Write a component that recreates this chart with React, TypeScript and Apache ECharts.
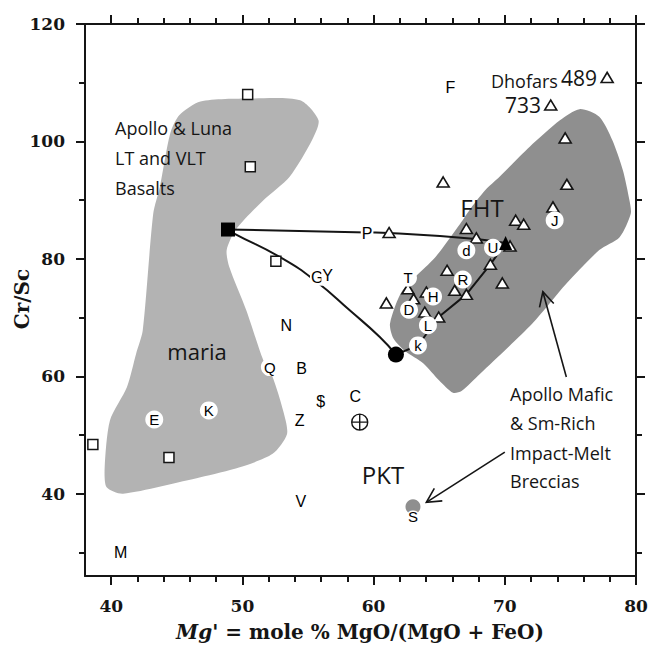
import React, { useEffect, useRef } from 'react';
import * as echarts from 'echarts';

// Axis ticks
const xMajorTicks = [40, 50, 60, 70, 80];
const xMinorTicks = [42, 44, 46, 48, 52, 54, 56, 58, 62, 64, 66, 68, 72, 74, 76, 78];
const yMajorTicks = [40, 60, 80, 100, 120];
const yMinorTicks = [30, 50, 70, 90, 110];

// Field outlines [Mg', Cr/Sc]
const mariaField = [
  [44.5, 101.4], [45.2, 104.5], [46.8, 106.8], [50.6, 107.3], [54.4, 107.0], [55.8, 103.6],
  [55.3, 100.2], [53.6, 94.0], [51.6, 90.0], [49.5, 85.0], [48.8, 81.5], [49.0, 78.6],
  [50.3, 71.2], [51.6, 62.7], [52.3, 59.9], [53.1, 54.2], [53.4, 50.2], [52.3, 46.8],
  [49.8, 44.5], [46.8, 42.8], [40.9, 40.0], [39.65, 41.1], [39.5, 44.5], [39.9, 52.5],
  [41.2, 58.2], [41.9, 63.9], [42.4, 67.8], [43.2, 87.7], [43.7, 92.2],
];
const mafitBrecciaField = [
  [75.7, 105.5], [77.2, 104.2], [78.2, 100.2], [79.0, 95.1], [79.5, 90.0], [79.6, 87.7],
  [78.75, 83.7], [77.2, 81.5], [74.7, 75.8], [72.1, 69.0], [68.1, 60.4], [66.7, 57.5],
  [66.05, 57.2], [65.0, 59.3], [63.8, 62.2], [62.4, 64.3], [61.5, 66.5], [61.25, 69.0],
  [62.2, 74.6], [64.7, 80.3], [66.6, 86.0], [67.3, 88.3], [68.5, 91.7], [69.6, 94.0],
  [71.9, 99.1], [74.2, 103.6],
];

// Sample groups
const basaltSquares = [[50.4, 108.0], [50.6, 95.7], [52.55, 79.6], [38.6, 48.4], [44.4, 46.2]];
const brecciaTriangles = [
  [77.8, 110.9], [73.5, 106.2], [74.6, 100.6], [74.73, 92.7], [65.3, 93.1], [73.67, 88.85],
  [70.83, 86.58], [71.44, 85.9], [67.07, 85.17], [61.18, 84.49], [67.83, 83.57], [70.4, 82.2],
  [65.6, 78.06], [68.9, 79.08], [69.81, 75.9], [62.62, 74.9], [66.18, 74.65], [67.07, 73.96],
  [60.97, 72.5], [63.05, 73.2], [64.02, 74.36], [63.9, 70.95], [64.96, 70.1],
];
const circledNames = ['d', 'U', 'J', 'T', 'R', 'H', 'D', 'L', 'k', 'Q', 'E', 'K'];
const circledX = [67.07, 69.1, 73.8, 62.62, 66.8, 64.53, 62.7, 64.14, 63.38, 52.09, 43.28, 47.44];
const circledY = [81.47, 81.9, 86.58, 76.8, 76.5, 73.6, 71.35, 68.7, 65.27, 61.57, 52.65, 54.2];
const letterNames = ['F', 'P', 'G', 'Y', 'N', 'B', '$', 'Z', 'C', 'V', 'M'];
const letterX = [65.85, 59.5, 55.7, 56.5, 53.35, 54.5, 55.97, 54.37, 58.6, 54.45, 40.72];
const letterY = [109.2, 84.4, 76.8, 77.2, 68.7, 61.3, 55.77, 52.5, 56.5, 38.7, 30.0];
const crossedCircle = [[58.94, 52.2]];
const pktPoint = [[63.0, 37.8]];

// End-members and mixing lines
const mareEnd = [48.9, 85.0];
const pktEnd = [61.7, 63.7];
const fhtEnd = [70.06, 82.7];
const mareFhtLine = [mareEnd, [59.5, 84.5], [61.2, 84.4], [67.8, 83.4], fhtEnd];
const marePktLine = [mareEnd, [49.3, 84.4], [53.1, 80.0], [55.65, 76.1], [58.2, 71.2], [60.47, 66.7], pktEnd];
const pktFhtLine = [pktEnd, [63.4, 65.3], [64.96, 70.1], [67.07, 73.96], [68.9, 79.08], fhtEnd];

// Arrows [x1, y1, x2, y2]
const arrows = [
  [74.69, 59.9, 72.9, 74.4],
  [70.0, 47.1, 64.02, 38.55],
];

const SERIF = "'DejaVu Serif', serif";
const SANS = "'Open Sans', sans-serif";
const LETTER = "'Liberation Sans', Arial, sans-serif";
const INK = '#151515';

function axisPair(kind: 'x' | 'y', position: string, showLabels: boolean) {
  const majors = kind === 'x' ? xMajorTicks : yMajorTicks;
  const minors = kind === 'x' ? xMinorTicks : yMinorTicks;
  const range = kind === 'x' ? { min: 38, max: 80 } : { min: 26, max: 120 };
  const major = {
    type: 'value',
    position,
    ...range,
    splitLine: { show: false },
    axisLine: { show: true, onZero: false, lineStyle: { color: INK, width: 2 } },
    axisTick: { show: true, inside: false, length: 9, customValues: majors, lineStyle: { color: INK, width: 2 } },
    axisLabel: showLabels
      ? {
          show: true,
          customValues: majors,
          margin: kind === 'x' ? 21 : 20,
          fontFamily: SERIF,
          fontWeight: 'bold',
          fontSize: 17,
          color: INK,
        }
      : { show: false },
  };
  const minor = {
    type: 'value',
    position,
    ...range,
    splitLine: { show: false },
    axisLine: { show: false, onZero: false },
    axisTick: { show: true, inside: false, length: 6, customValues: minors, lineStyle: { color: INK, width: 2 } },
    axisLabel: { show: false },
  };
  return [major, minor];
}

function textEl(text: string, x: number, y: number, size: number, align = 'left', extra: any = {}) {
  return {
    type: 'text',
    x,
    y,
    z: 100,
    silent: true,
    style: {
      text,
      fontFamily: SANS,
      fontSize: size,
      fill: INK,
      textAlign: align,
      textVerticalAlign: 'middle',
      ...extra,
    },
  };
}

export default function App() {
  const ref = useRef<HTMLDivElement>(null);

  useEffect(() => {
    if (!ref.current) return;
    const chart = echarts.init(ref.current, null, { renderer: 'svg' });

    const polygonSeries = (pts: number[][], fill: string) => ({
      type: 'custom',
      xAxisIndex: 0,
      yAxisIndex: 0,
      silent: true,
      z: 1,
      data: [0],
      renderItem: (_p: any, api: any) => ({
        type: 'polygon',
        shape: { points: pts.map((p) => api.coord(p)), smooth: 0.25 },
        style: { fill },
      }),
    });

    const lineSeries = (pts: number[][], smooth: boolean) => ({
      type: 'line',
      xAxisIndex: 0,
      yAxisIndex: 0,
      data: pts,
      smooth,
      symbol: 'none',
      silent: true,
      z: 3,
      lineStyle: { color: INK, width: 2 },
    });

    const letterLabel = {
      show: true,
      position: 'inside',
      formatter: '{b}',
      fontFamily: LETTER,
      fontSize: 16,
      color: '#000',
    };

    const option: any = {
      animation: false,
      backgroundColor: '#ffffff',
      grid: { left: 85, right: 17, top: 24, bottom: 73, containLabel: false },
      xAxis: [...axisPair('x', 'bottom', true), ...axisPair('x', 'top', false)],
      yAxis: [...axisPair('y', 'left', true), ...axisPair('y', 'right', false)],
      series: [
        polygonSeries(mariaField, '#b3b3b3'),
        polygonSeries(mafitBrecciaField, '#8f8f8f'),
        lineSeries(marePktLine, true),
        lineSeries(mareFhtLine, true),
        lineSeries(pktFhtLine, false),
        {
          type: 'custom',
          xAxisIndex: 0,
          yAxisIndex: 0,
          silent: true,
          z: 3,
          data: arrows,
          renderItem: (_p: any, api: any) => {
            const a = api.coord([api.value(0), api.value(1)]);
            const b = api.coord([api.value(2), api.value(3)]);
            const ang = Math.atan2(b[1] - a[1], b[0] - a[0]);
            const len = 16;
            const spread = 0.48;
            const h1 = [b[0] - len * Math.cos(ang - spread), b[1] - len * Math.sin(ang - spread)];
            const h2 = [b[0] - len * Math.cos(ang + spread), b[1] - len * Math.sin(ang + spread)];
            return {
              type: 'group',
              children: [
                { type: 'line', shape: { x1: a[0], y1: a[1], x2: b[0], y2: b[1] }, style: { stroke: INK, lineWidth: 1.6 } },
                { type: 'polyline', shape: { points: [h1, b, h2] }, style: { stroke: INK, lineWidth: 1.6, fill: 'none' } },
              ],
            };
          },
        },
        {
          type: 'scatter',
          name: 'Apollo & Luna basalts',
          data: basaltSquares,
          symbol: 'rect',
          symbolSize: 10,
          z: 4,
          itemStyle: { color: '#ffffff', borderColor: INK, borderWidth: 1.5, opacity: 1 },
        },
        {
          type: 'scatter',
          name: 'Impact-melt breccias',
          data: brecciaTriangles,
          symbol: 'triangle',
          symbolSize: [12, 10],
          z: 4,
          itemStyle: { color: '#ffffff', borderColor: INK, borderWidth: 1.6, opacity: 1 },
        },
        {
          type: 'scatter',
          name: 'Meteorites',
          data: letterNames.map((n, i) => ({ name: n, value: [letterX[i], letterY[i]] })),
          symbolSize: 1,
          z: 5,
          itemStyle: { color: 'rgba(0,0,0,0)', opacity: 1 },
          label: { ...letterLabel, backgroundColor: '#ffffff', padding: [0, 1] },
        },
        {
          type: 'scatter',
          name: 'Circled meteorites',
          data: circledNames.map((n, i) => ({ name: n, value: [circledX[i], circledY[i]] })),
          symbol: 'circle',
          symbolSize: 18,
          z: 5,
          itemStyle: { color: '#ffffff', opacity: 1 },
          label: { ...letterLabel, fontSize: 15 },
        },
        {
          type: 'scatter',
          name: 'Earth',
          data: crossedCircle,
          symbol: 'path://M1 10 A9 9 0 1 1 19 10 A9 9 0 1 1 1 10 Z M10 1 L10 19 M1 10 L19 10',
          symbolSize: 16,
          z: 5,
          itemStyle: { color: 'rgba(0,0,0,0)', borderColor: INK, borderWidth: 1.4, opacity: 1 },
        },
        {
          type: 'scatter',
          name: 'PKT',
          data: pktPoint,
          symbol: 'circle',
          symbolSize: 15,
          z: 5,
          itemStyle: { color: '#8f8f8f', opacity: 1 },
          label: {
            ...letterLabel,
            fontSize: 15,
            position: 'bottom',
            distance: -5,
            formatter: 'S',
            textBorderColor: '#ffffff',
            textBorderWidth: 3,
          },
        },
        {
          type: 'scatter',
          name: 'End-members',
          data: [
            { value: mareEnd, symbol: 'rect', symbolSize: 14 },
            { value: pktEnd, symbol: 'circle', symbolSize: 16 },
            { value: fhtEnd, symbol: 'triangle', symbolSize: [13, 14] },
          ],
          z: 6,
          itemStyle: { color: '#000000', opacity: 1 },
        },
      ],
      graphic: [
        textEl('Apollo & Luna', 115, 128, 18),
        textEl('LT and VLT', 115, 158, 18),
        textEl('Basalts', 115, 187.5, 18),
        textEl('maria', 197, 351, 22, 'center'),
        textEl('FHT', 482, 207, 24, 'center'),
        textEl('PKT', 383, 474, 24, 'center'),
        textEl('Dhofars', 491, 81, 18),
        textEl('489', 561, 78, 21),
        textEl('733', 505, 105, 21),
        textEl('Apollo Mafic', 510, 394, 18),
        textEl('& Sm-Rich', 510, 423, 18),
        textEl('Impact-Melt', 510, 452.5, 18),
        textEl('Breccias', 510, 481, 18),
        {
          type: 'text',
          x: 22,
          y: 299,
          z: 100,
          rotation: Math.PI / 2,
          silent: true,
          style: {
            text: 'Cr/Sc',
            fontFamily: SERIF,
            fontWeight: 'bold',
            fontSize: 20,
            fill: INK,
            textAlign: 'center',
            textVerticalAlign: 'middle',
          },
        },
        {
          type: 'text',
          x: 360,
          y: 632,
          z: 100,
          silent: true,
          style: {
            text: "{i|Mg}' = mole % MgO/(MgO + FeO)",
            fontFamily: SERIF,
            fontWeight: 'bold',
            fontSize: 20,
            fill: INK,
            textAlign: 'center',
            textVerticalAlign: 'middle',
            rich: {
              i: { fontFamily: SERIF, fontWeight: 'bold', fontStyle: 'italic', fontSize: 20, fill: INK },
            },
          },
        },
      ],
    };

    chart.setOption(option);
    return () => chart.dispose();
  }, []);

  return <div ref={ref} style={{ position: 'fixed', left: 0, top: 0, width: 653, height: 649 }} />;
}
